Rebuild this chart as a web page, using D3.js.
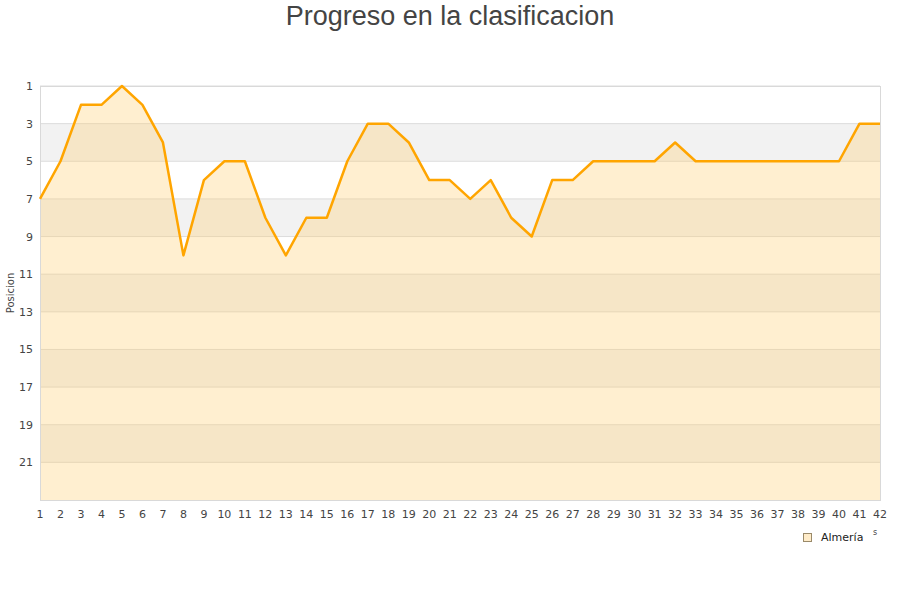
<!DOCTYPE html>
<html><head><meta charset="utf-8">
<script src="https://cdn.jsdelivr.net/npm/d3@7"></script>
<style>body{margin:0;background:#fff}svg{display:block}</style>
</head><body>
<svg id="c" width="900" height="600"></svg>
<script>
const jornadas = d3.range(1, 43);
const posiciones = [7,5,2,2,1,2,4,10,6,5,5,8,10,8,8,5,3,3,4,6,6,7,6,8,9,6,6,5,5,5,5,4,5,5,5,5,5,5,5,5,3,3];
const yTicks = [1,3,5,7,9,11,13,15,17,19,21];
const teamName = "Almería";
const title = "Progreso en la clasificacion";
const yTitle = "Posicion";

const svg = d3.select("#c");
const m = {l:40, r:880, t:86, b:500};
const x = d3.scaleLinear().domain([1,42]).range([m.l, m.r]);
const y = d3.scaleLinear().domain([1,23]).range([m.t, m.b]);

// bands
const bands = d3.range(1, 23, 2);
svg.selectAll("rect.band").data(bands).enter().append("rect")
  .attr("x", m.l).attr("width", m.r - m.l)
  .attr("y", d => y(d)).attr("height", d => y(d+2) - y(d))
  .attr("fill", (d,i) => i % 2 ? "#f2f2f2" : "#ffffff");

// grid lines
svg.selectAll("line.grid").data(yTicks).enter().append("line")
  .attr("x1", m.l).attr("x2", m.r)
  .attr("y1", d => y(d)).attr("y2", d => y(d))
  .attr("stroke", "#dcdcdc").attr("stroke-width", 1);

const data = jornadas.map((j,i) => ({j, p: posiciones[i]}));

svg.append("path").datum(data)
  .attr("d", d3.area().x(d => x(d.j)).y0(y(23)).y1(d => y(d.p)))
  .attr("fill", "rgb(255,206,110)").attr("fill-opacity", 0.32);

// frame
svg.append("rect").attr("x", m.l + 0.5).attr("y", m.t + 0.5)
  .attr("width", m.r - m.l).attr("height", m.b - m.t)
  .attr("fill", "none").attr("stroke", "#d9d9d9");

svg.append("path").datum(data)
  .attr("d", d3.line().x(d => x(d.j)).y(d => y(d.p)))
  .attr("fill", "none").attr("stroke", "#ffa500").attr("stroke-width", 2.5)
  .attr("stroke-linejoin", "round");

// axes labels
svg.selectAll("text.yt").data(yTicks).enter().append("text")
  .attr("x", 33).attr("y", d => y(d) + 4).attr("text-anchor", "end")
  .attr("font-family", "DejaVu Sans").attr("font-size", 11).attr("fill", "#444")
  .text(d => d);

svg.selectAll("text.xt").data(jornadas).enter().append("text")
  .attr("x", d => x(d)).attr("y", 518).attr("text-anchor", "middle")
  .attr("font-family", "DejaVu Sans").attr("font-size", 11).attr("fill", "#444")
  .text(d => d);

svg.append("text").attr("transform", "translate(14,293) rotate(-90)")
  .attr("text-anchor", "middle").attr("font-family", "DejaVu Sans")
  .attr("font-size", 10).attr("fill", "#444").text(yTitle);

svg.append("text").attr("x", 450).attr("y", 25).attr("text-anchor", "middle")
  .attr("font-family", "Liberation Sans, Arial").attr("font-size", 27)
  .attr("fill", "#444").text(title);

// legend
svg.append("rect").attr("x", 803.5).attr("y", 533.5).attr("width", 8).attr("height", 8)
  .attr("fill", "#ffecc9").attr("stroke", "#9a8a6a").attr("stroke-width", 1);
svg.append("text").attr("x", 821).attr("y", 541)
  .attr("font-family", "DejaVu Sans").attr("font-size", 11).attr("fill", "#222").text(teamName);
svg.append("text").attr("x", 873).attr("y", 535)
  .attr("font-family", "DejaVu Sans").attr("font-size", 8).attr("fill", "#444").text("s");
</script>
</body></html>
